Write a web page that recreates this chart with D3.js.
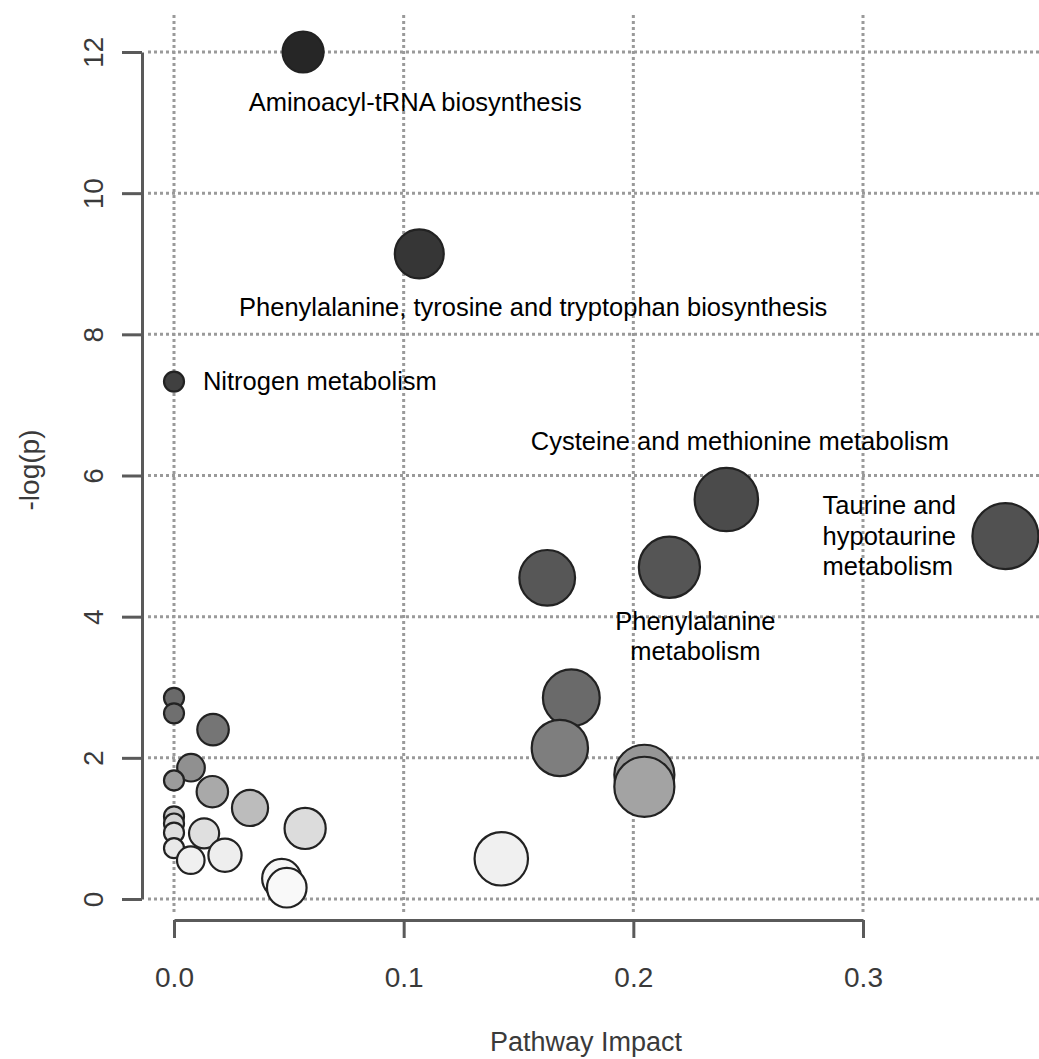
<!DOCTYPE html>
<html>
<head>
<meta charset="utf-8">
<script src="https://cdn.jsdelivr.net/npm/d3@7"></script>
<style>
  body { margin: 0; background: #fff; }
  svg { display: block; font-family: 'Liberation Sans', Arial, sans-serif; }
</style>
</head>
<body>
<svg id="chart" width="1039" height="1059"></svg>
<script>
// pathway impact (x) and -log(p) (y) for each pathway
const impact = [0.0562, 0.1068, 0.0, 0.2405, 0.362, 0.2157, 0.1625, 0.173, 0.168, 0.2048, 0.2048, 0.1425,
                0.0, 0.0, 0.017, 0.0074, 0.0, 0.0167, 0.0331, 0.0571, 0.0, 0.0, 0.0, 0.0,
                0.0131, 0.0222, 0.0073, 0.0469, 0.0491];
const logp = [12.0, 9.14, 7.33, 5.66, 5.14, 4.70, 4.55, 2.85, 2.14, 1.76, 1.59, 0.57,
              2.85, 2.63, 2.40, 1.86, 1.68, 1.52, 1.29, 1.00, 1.17, 1.07, 0.94, 0.72,
              0.93, 0.62, 0.55, 0.29, 0.16];

const xTicks = [0, 0.1, 0.2, 0.3];
const yTicks = [0, 2, 4, 6, 8, 10, 12];

// annotation text, anchored in data units
const labels = [
  {lines: ['Aminoacyl-tRNA biosynthesis'], x: 0.105, y: 11.29, anchor: 'middle'},
  {lines: ['Phenylalanine, tyrosine and tryptophan biosynthesis'], x: 0.1564, y: 8.39, anchor: 'middle'},
  {lines: ['Nitrogen metabolism'], x: 0.0126, y: 7.34, anchor: 'start'},
  {lines: ['Cysteine and methionine metabolism'], x: 0.2464, y: 6.49, anchor: 'middle'},
  {lines: ['Taurine and', 'hypotaurine', 'metabolism'], x: 0.2824, y: 5.58, anchor: 'start'},
  {lines: ['Phenylalanine', 'metabolism'], x: 0.227, y: 3.94, anchor: 'middle'}
];

const svg = d3.select('#chart');
const width = +svg.attr('width');
const height = +svg.attr('height');

const x = d3.scaleLinear().domain([0, 0.3]).range([174, 863]);
const y = d3.scaleLinear().domain([0, 12]).range([899, 52]);
const r = d3.scalePow().exponent(0.5).domain([0, 0.27]).range([10, 33]).clamp(true);
const shade = d3.scaleLinear()
    .domain([0, 0.6, 1.0, 1.3, 1.7, 2.2, 3, 4.5, 6, 9])
    .range(['#fcfcfc', '#efefef', '#dcdcdc', '#bbbbbb', '#9a9a9a', '#7a7a7a', '#666666', '#575757', '#484848', '#373737']);

const data = impact.map((d, i) => ({x: d, y: logp[i]}))
    .sort((a, b) => b.y - a.y);

// dotted grid
const grid = svg.append('g').attr('stroke', '#9a9a9a').attr('stroke-width', 3)
    .attr('stroke-dasharray', '3,3');
grid.selectAll('.vg').data(xTicks).enter().append('line')
    .attr('x1', d => x(d)).attr('x2', d => x(d))
    .attr('y1', 15).attr('y2', 915);
grid.selectAll('.hg').data(yTicks).enter().append('line')
    .attr('x1', 148).attr('x2', width)
    .attr('y1', d => y(d)).attr('y2', d => y(d));

// axes
const yAxis = svg.append('g')
    .attr('transform', `translate(142, 0)`)
    .call(d3.axisLeft(y).tickValues(yTicks).tickSize(20).tickSizeOuter(0).tickFormat(d3.format('d')));
yAxis.selectAll('text')
    .attr('x', 0).attr('dy', 0)
    .attr('transform', 'translate(-39,0) rotate(-90)')
    .style('text-anchor', 'middle');

const xAxis = svg.append('g')
    .attr('transform', `translate(0, 920)`)
    .call(d3.axisBottom(x).tickValues(xTicks).tickSize(18).tickSizeOuter(0).tickFormat(d3.format('.1f')));
xAxis.selectAll('text').attr('y', 67).attr('dy', 0);

svg.selectAll('.domain').attr('stroke', '#5a5a5a').attr('stroke-width', 3);
svg.selectAll('.tick line').attr('stroke', '#5a5a5a').attr('stroke-width', 3);
svg.selectAll('.tick text').attr('fill', '#3a3a3a').style('font-size', '28px')
    .style('font-family', "'Liberation Sans', Arial, sans-serif");

// axis titles
svg.append('text')
    .attr('x', 586).attr('y', 1051)
    .attr('text-anchor', 'middle')
    .attr('fill', '#3a3a3a').style('font-size', '27px')
    .text('Pathway Impact');
svg.append('text')
    .attr('transform', 'translate(39, 470) rotate(-90)')
    .attr('text-anchor', 'middle')
    .attr('fill', '#3a3a3a').style('font-size', '28px')
    .text('-log(p)');

// bubbles
svg.append('g').selectAll('circle')
    .data(data).enter().append('circle')
    .attr('cx', d => x(d.x))
    .attr('cy', d => y(d.y))
    .attr('r', d => r(d.x))
    .attr('fill', d => shade(d.y))
    .attr('stroke', '#222')
    .attr('stroke-width', 2.2);

// pathway names
const lab = svg.append('g').style('font-size', '25.5px').attr('fill', '#000');
labels.forEach(l => {
  const t = lab.append('text')
      .attr('x', x(l.x))
      .attr('y', y(l.y))
      .attr('text-anchor', l.anchor)
      .attr('dominant-baseline', 'central');
  l.lines.forEach((s, i) => {
    t.append('tspan')
        .attr('x', x(l.x))
        .attr('dy', i === 0 ? 0 : 30.5)
        .text(s);
  });
});
</script>
</body>
</html>
